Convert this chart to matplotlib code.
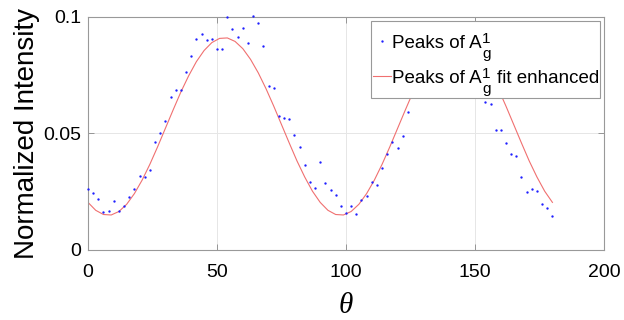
import numpy as np
import matplotlib
matplotlib.use("Agg")
import matplotlib.pyplot as plt
from matplotlib.patches import Rectangle
from matplotlib.transforms import IdentityTransform

plt.rcParams['font.family'] = ['Liberation Sans', 'DejaVu Sans']
plt.rcParams['mathtext.fontset'] = 'custom'
plt.rcParams['mathtext.it'] = 'Liberation Serif:italic'

# measured peaks (points behind the legend are not visible and left out)
theta = [0, 2, 4, 6, 8, 10, 12, 14, 16, 18, 20, 22, 24, 26, 28, 30, 32, 34, 36, 38,
         40, 42, 44, 46, 48, 50, 52, 54, 56, 58, 60, 62, 64, 66, 68, 70, 72, 74, 76, 78,
         80, 82, 84, 86, 88, 90, 92, 94, 96, 98, 100, 102, 104, 106, 108, 110, 112, 114,
         116, 118, 120, 122, 124,
         154, 156, 158, 160, 162, 164, 166, 168, 170, 172, 174, 176, 178, 180]
peaks = [0.0260, 0.0245, 0.0220, 0.0163, 0.0167, 0.0210, 0.0166, 0.0187, 0.0227, 0.0260,
         0.0318, 0.0312, 0.0345, 0.0465, 0.0500, 0.0555, 0.0658, 0.0687, 0.0687, 0.0763,
         0.0834, 0.0904, 0.0925, 0.0903, 0.0906, 0.0861, 0.0861, 0.0999, 0.0950, 0.0916,
         0.0953, 0.0887, 0.1003, 0.0976, 0.0874, 0.0705, 0.0694, 0.0575, 0.0565, 0.0560,
         0.0494, 0.0443, 0.0366, 0.0293, 0.0266, 0.0377, 0.0286, 0.0258, 0.0237, 0.0190,
         0.0160, 0.0190, 0.0155, 0.0215, 0.0232, 0.0293, 0.0279, 0.0352, 0.0410, 0.0465,
         0.0438, 0.0490, 0.0594,
         0.0633, 0.0625, 0.0513, 0.0516, 0.0459, 0.0413, 0.0402, 0.0313, 0.0248, 0.0260,
         0.0255, 0.0199, 0.0180, 0.0145]

# fit curve read every 3 degrees
theta_fit = list(range(0, 181, 3))
fit_half = [0.0204, 0.0170, 0.0152, 0.0150, 0.0165, 0.0196, 0.0242, 0.0300, 0.0368,
            0.0443, 0.0522, 0.0601, 0.0678, 0.0747, 0.0808, 0.0856, 0.0890, 0.0908,
            0.0910, 0.0895, 0.0864, 0.0818, 0.0760, 0.0692, 0.0617, 0.0538, 0.0459,
            0.0382, 0.0313, 0.0252]
fit_vals = fit_half + fit_half + [0.0204]

# legend labels "Peaks of A_g^1" / "Peaks of A_g^1 fit enhanced", built in pieces
label_head = 'Peaks of A'
label_tails = ['', 'fit enhanced']
sup_txt, sub_txt = '1', 'g'

fig = plt.figure(figsize=(6.24, 3.2), dpi=100)
ax = fig.add_axes([0.141, 0.219, 0.827, 0.728])

ax.plot(theta, peaks, linestyle='none', marker='o', markersize=1.7, markeredgewidth=0,
        color='#2020ff', label=label_head, clip_on=False, zorder=3)
ax.plot(theta_fit, fit_vals, color='#f07070', linewidth=0.8, label=label_head, zorder=2)

ax.set_xlim(0, 200)
ax.set_ylim(0, 0.1)
ax.set_xticks([0, 50, 100, 150, 200])
ax.set_yticks([0, 0.05, 0.1])
ax.set_yticklabels(['0', '0.05', '0.1'])
ax.tick_params(direction='in', length=4, width=0.6, color='#888888', labelsize=14,
               top=True, right=True)
ax.tick_params(axis='x', pad=10)
ax.tick_params(axis='y', pad=5)
for s in ax.spines.values():
    s.set_color('#999999')
    s.set_linewidth(0.8)
ax.grid(True, color='#e6e6e6', linewidth=0.7)
ax.set_axisbelow(True)

ax.set_ylabel('Normalized Intensity', fontsize=20, labelpad=2)
ax.set_xlabel(r'$\theta$', fontsize=21, labelpad=7)

# legend box drawn by hand (MATLAB style: tall rows, tight sides)
box = Rectangle((0.5484, 0.6524), 0.9922 - 0.5484, 0.9841 - 0.6524, transform=ax.transAxes,
                facecolor='white', edgecolor='#999999', linewidth=0.8, zorder=4.5,
                clip_on=False)
ax.add_patch(box)
leg = ax.legend(loc='upper left', bbox_to_anchor=(0.5529, 0.925), fontsize=13.5,
                frameon=False, handlelength=0.95, handletextpad=0.05, borderpad=0,
                labelspacing=0.98, borderaxespad=0)
leg.set_zorder(5)

fig.canvas.draw()
renderer = fig.canvas.get_renderer()
texts = leg.get_texts()
prop = texts[0].get_fontproperties()
lp_d = renderer.get_text_width_height_descent('lp', prop, ismath=False)[2]
for t, tail in zip(texts, label_tails):
    bb = t.get_window_extent(renderer)
    base = bb.y0 + lp_d
    a_end = bb.x1
    fig.text(a_end + 0.5, base + 5, sup_txt, fontsize=11, ha='left', va='baseline',
             transform=IdentityTransform(), zorder=6)
    fig.text(a_end + 1, base - 10, sub_txt, fontsize=11, ha='left', va='baseline',
             transform=IdentityTransform(), zorder=6)
    if tail:
        fig.text(a_end + 15.5, base, tail, fontsize=13.5, ha='left', va='baseline',
                 transform=IdentityTransform(), zorder=6)

fig.savefig('out.png', dpi=100)
